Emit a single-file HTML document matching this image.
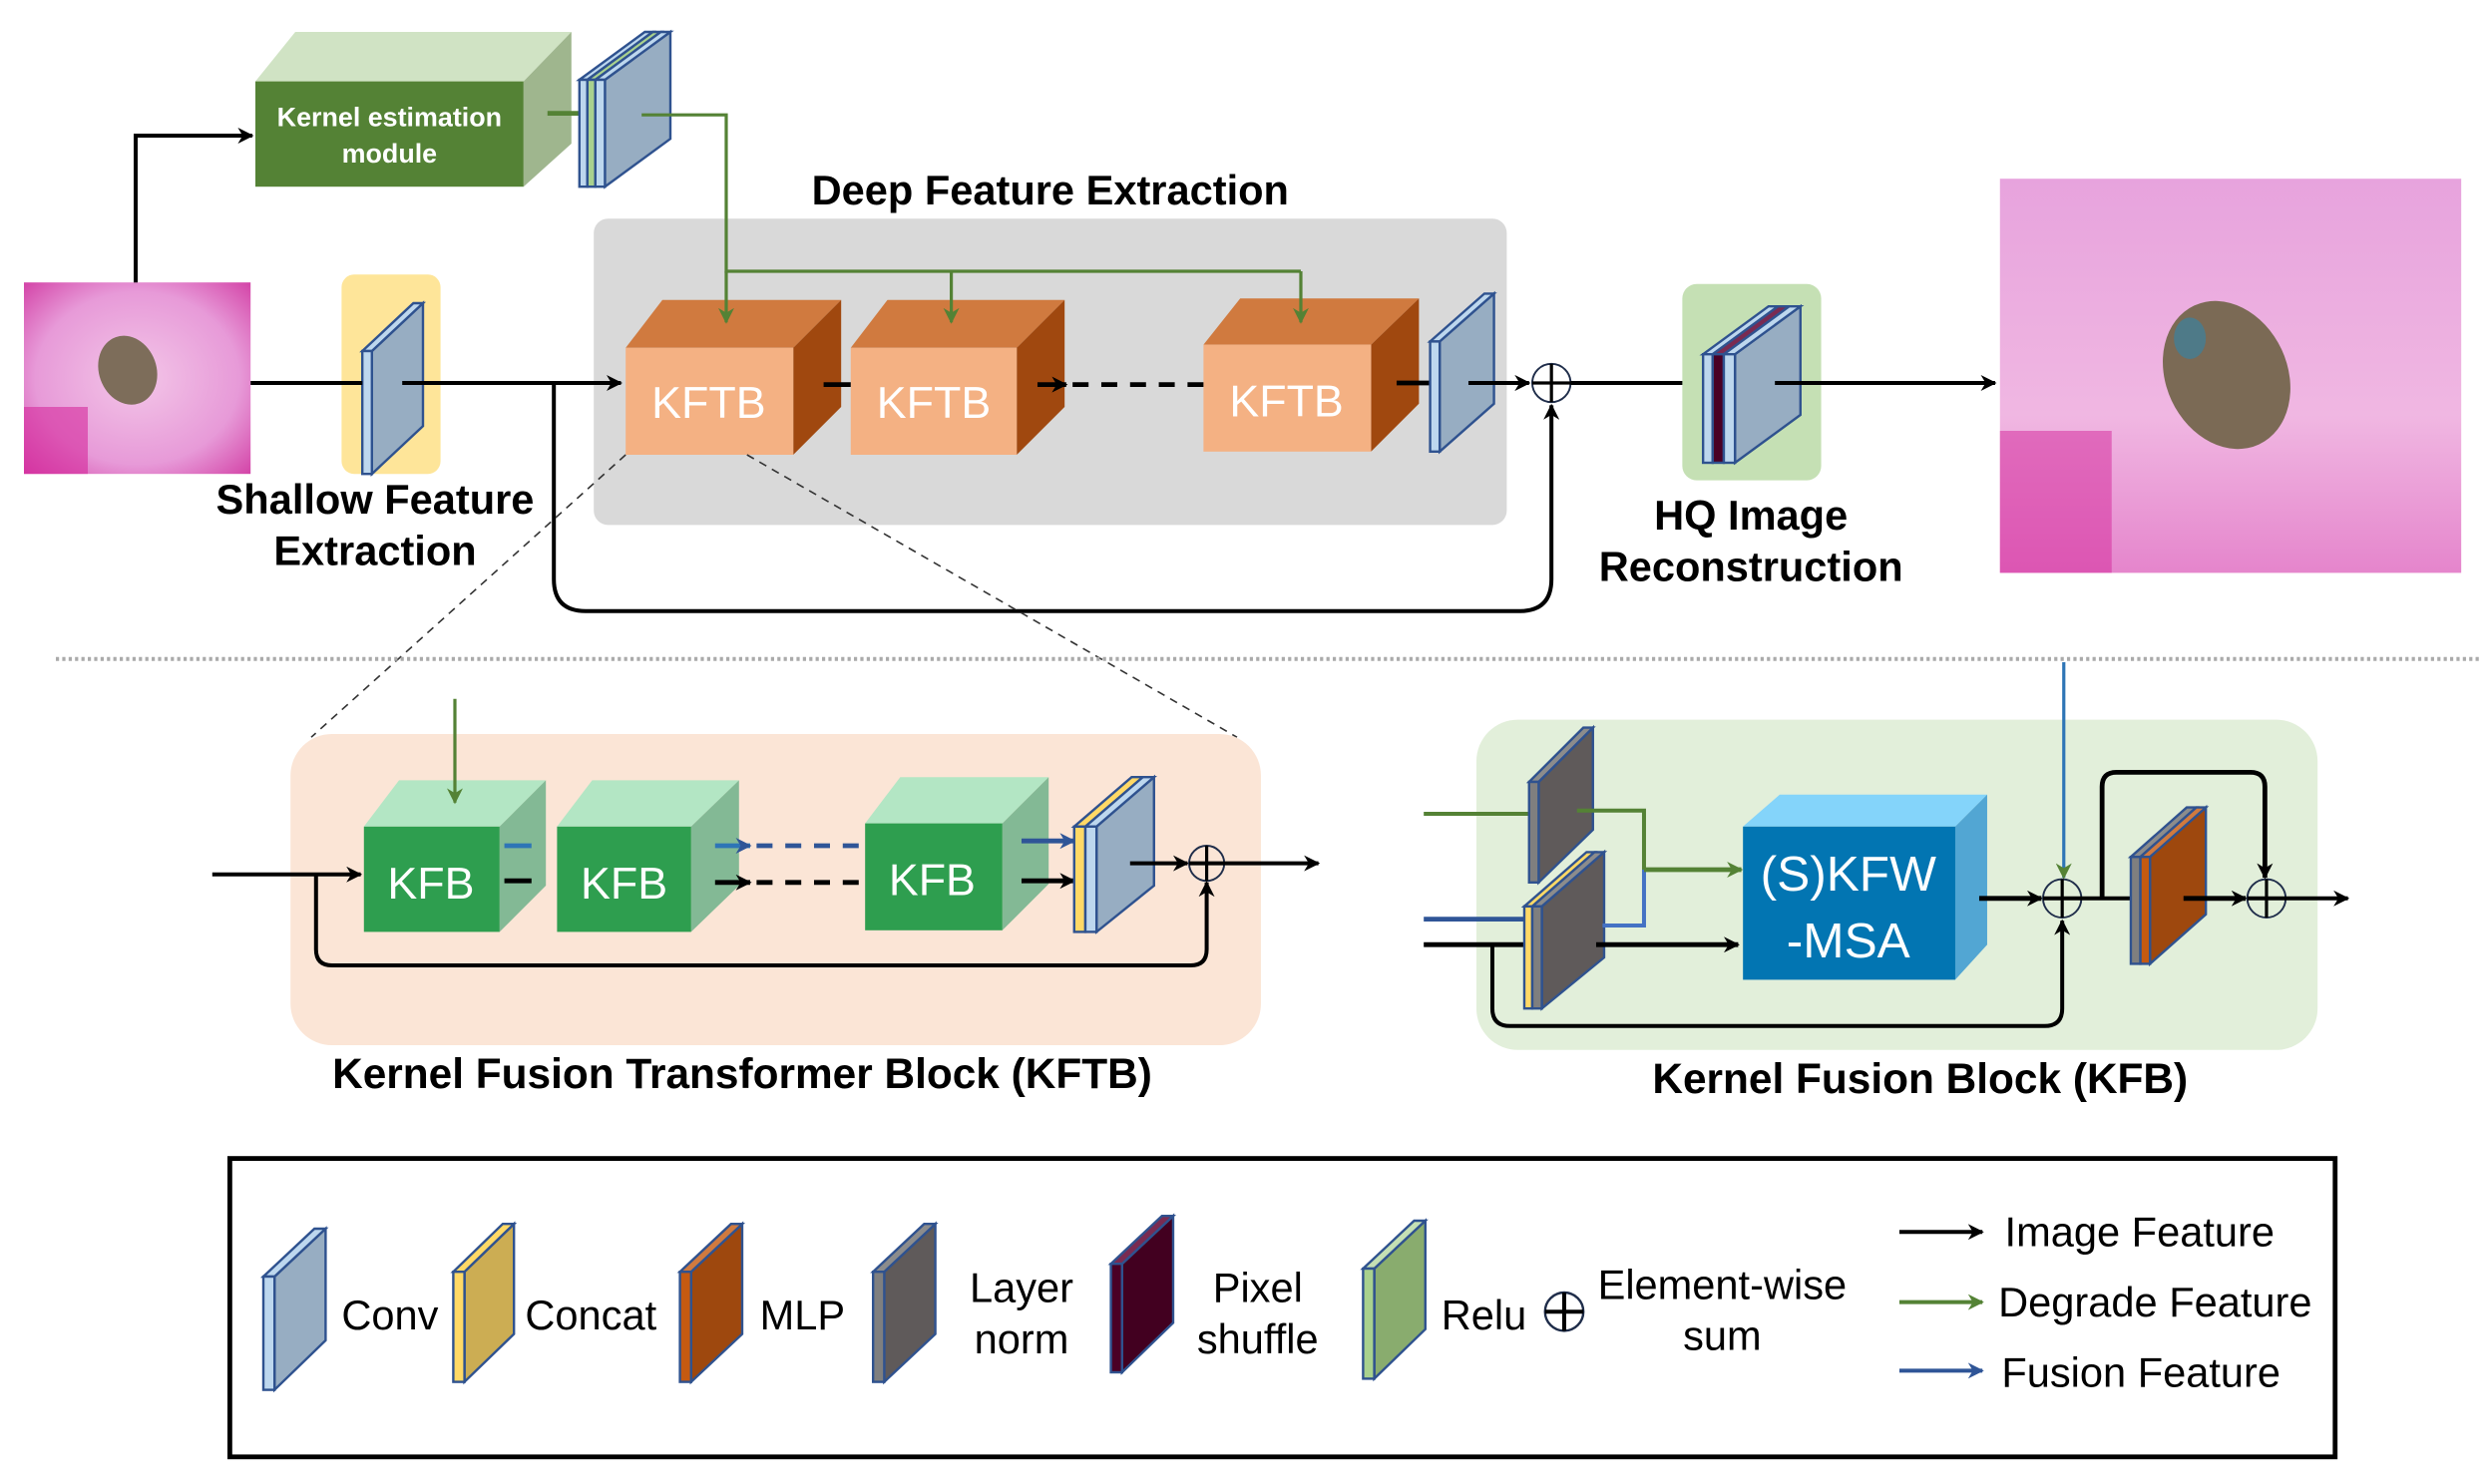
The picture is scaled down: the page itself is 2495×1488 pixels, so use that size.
<!DOCTYPE html>
<html><head><meta charset="utf-8"><style>
html,body{margin:0;padding:0;background:#fff}
svg{display:block}
text{font-family:"Liberation Sans",Arial,sans-serif}
</style></head><body>
<svg width="2495" height="1488" viewBox="0 0 1559.4 930" preserveAspectRatio="none" xmlns="http://www.w3.org/2000/svg">
<defs>
<marker id="ab" markerWidth="10" markerHeight="10" refX="9" refY="5" orient="auto" markerUnits="userSpaceOnUse"><path d="M0,0 L10,5 L0,10 L3,5 Z" fill="#000"/></marker>
<marker id="ag" markerWidth="10" markerHeight="10" refX="9" refY="5" orient="auto" markerUnits="userSpaceOnUse"><path d="M0,0 L10,5 L0,10 L3,5 Z" fill="#548235"/></marker>
<marker id="au" markerWidth="10" markerHeight="10" refX="9" refY="5" orient="auto" markerUnits="userSpaceOnUse"><path d="M0,0 L10,5 L0,10 L3,5 Z" fill="#2f5597"/></marker>
<radialGradient id="pk" cx="0.5" cy="0.5" r="0.75"><stop offset="0" stop-color="#f3c6e8"/><stop offset="0.6" stop-color="#e79ad8"/><stop offset="1" stop-color="#d0359f"/></radialGradient>
<linearGradient id="pk2" x1="0" y1="0" x2="0" y2="1"><stop offset="0" stop-color="#e7a3dd"/><stop offset="0.6" stop-color="#f0b7e2"/><stop offset="1" stop-color="#e585cc"/></linearGradient>
</defs>

<!-- input image -->
<rect x="15" y="177" width="142" height="120" fill="url(#pk)"/>
<rect x="15" y="255" width="40" height="42" fill="#d62a9c" opacity="0.6"/>
<ellipse cx="80" cy="232" rx="18" ry="22" fill="#7d6d5a" transform="rotate(-20 80 232)"/>
<!-- output image -->
<rect x="1253" y="112" width="289" height="247" fill="url(#pk2)"/>
<rect x="1253" y="270" width="70" height="89" fill="#d6309e" opacity="0.55"/>
<ellipse cx="1395" cy="235" rx="38" ry="48" fill="#7b6a55" transform="rotate(-25 1395 235)"/>
<ellipse cx="1372" cy="212" rx="10" ry="13" fill="#4e7a88"/>

<!-- arrow to kernel estimation -->
<polyline points="85,177 85,85 158,85" fill="none" stroke="#000" stroke-width="2.5" marker-end="url(#ab)"/>
<!-- kernel estimation module -->
<polygon points="160,51 185,20 358,20 328,51" fill="#d0e3c4"/>
<polygon points="328,51 358,20 358,90 328,117" fill="#9fb68e"/>
<rect x="160" y="51" width="168" height="66" fill="#548235"/>
<text x="244" y="79" font-size="16.8" font-weight="bold" fill="#fff" text-anchor="middle">Kernel estimation</text>
<text x="244" y="102" font-size="16.8" font-weight="bold" fill="#fff" text-anchor="middle">module</text>
<line x1="343" y1="71" x2="363" y2="71" stroke="#548235" stroke-width="3"/>
<!-- kernel slab -->
<g stroke="#2f528f" stroke-width="1.5">
<polygon points="379,50 420,20 420,87 379,117" fill="#97adc2"/>
<polygon points="363,50 404,20 409,20 368,50" fill="#bdd7ee"/>
<polygon points="368,50 409,20 414,20 373,50" fill="#a9d18e"/>
<polygon points="373,50 414,20 420,20 379,50" fill="#bdd7ee"/>
<rect x="363" y="50" width="5" height="67" fill="#bdd7ee"/>
<rect x="368" y="50" width="5" height="67" fill="#a9d18e"/>
<rect x="373" y="50" width="6" height="67" fill="#bdd7ee"/>
</g>

<!-- deep feature extraction -->
<text x="658" y="128" font-size="26" font-weight="bold" text-anchor="middle">Deep Feature Extraction</text>
<rect x="372" y="137" width="572" height="192" rx="9" fill="#d9d9d9"/>
<polyline points="402,72 455,72 455,170 815,170" fill="none" stroke="#548235" stroke-width="2"/>

<!-- KFTB cubes -->
<g>
<polygon points="392,218 415,188 527,188 497,218" fill="#d07a3f"/>
<polygon points="497,218 527,188 527,255 497,285" fill="#a0480f"/>
<rect x="392" y="218" width="105" height="67" fill="#f4b183"/>
<text x="444" y="262" font-size="28" fill="#fff" text-anchor="middle">KFTB</text>
<polygon points="533,218 556,188 667,188 637,218" fill="#d07a3f"/>
<polygon points="637,218 667,188 667,255 637,285" fill="#a0480f"/>
<rect x="533" y="218" width="104" height="67" fill="#f4b183"/>
<text x="585" y="262" font-size="28" fill="#fff" text-anchor="middle">KFTB</text>
<polygon points="754,216 777,187 889,187 859,216" fill="#d07a3f"/>
<polygon points="859,216 889,187 889,253 859,283" fill="#a0480f"/>
<rect x="754" y="216" width="105" height="67" fill="#f4b183"/>
<text x="806" y="261" font-size="28" fill="#fff" text-anchor="middle">KFTB</text>
</g>
<line x1="455" y1="170" x2="455" y2="202" stroke="#548235" stroke-width="2" marker-end="url(#ag)"/>
<line x1="596" y1="170" x2="596" y2="202" stroke="#548235" stroke-width="2" marker-end="url(#ag)"/>
<line x1="815" y1="170" x2="815" y2="202" stroke="#548235" stroke-width="2" marker-end="url(#ag)"/>

<!-- shallow feature -->
<rect x="214" y="172" width="62" height="125" rx="8" fill="#fee599"/>
<g stroke="#2f528f" stroke-width="1.5">
<polygon points="233,220 265,190 265,267 233,297" fill="#97adc2"/>
<polygon points="227,220 259,190 265,190 233,220" fill="#bdd7ee"/>
<rect x="227" y="220" width="6" height="77" fill="#bdd7ee"/>
</g>
<line x1="157" y1="240" x2="227" y2="240" stroke="#000" stroke-width="2.5"/>
<line x1="252" y1="240" x2="389" y2="240" stroke="#000" stroke-width="2.5" marker-end="url(#ab)"/>
<line x1="516" y1="241" x2="533" y2="241" stroke="#000" stroke-width="3"/>
<line x1="650" y1="241" x2="668" y2="241" stroke="#000" stroke-width="3" marker-end="url(#ab)"/>
<line x1="672" y1="241" x2="754" y2="241" stroke="#000" stroke-width="3" stroke-dasharray="10,8"/>
<line x1="875" y1="240" x2="896" y2="240" stroke="#000" stroke-width="3"/>
<!-- conv after KFTB -->
<g stroke="#2f528f" stroke-width="1.5">
<polygon points="902,214 936,184 936,253 902,283" fill="#97adc2"/>
<polygon points="896,214 930,184 936,184 902,214" fill="#bdd7ee"/>
<rect x="896" y="214" width="6" height="69" fill="#bdd7ee"/>
</g>
<line x1="920" y1="240" x2="958" y2="240" stroke="#000" stroke-width="2.5" marker-end="url(#ab)"/>
<circle cx="972" cy="240" r="12" fill="none" stroke="#1f2d4a" stroke-width="1.2"/>
<line x1="960" y1="240" x2="984" y2="240" stroke="#000" stroke-width="2"/>
<line x1="972" y1="228" x2="972" y2="252" stroke="#000" stroke-width="2"/>
<line x1="984" y1="240" x2="1067" y2="240" stroke="#000" stroke-width="2.5"/>
<!-- skip -->
<path d="M347,240 L347,363 Q347,383 367,383 L952,383 Q972,383 972,363 L972,254" fill="none" stroke="#000" stroke-width="2.5" marker-end="url(#ab)"/>
<!-- HQ -->
<rect x="1054" y="178" width="87" height="123" rx="9" fill="#c5e0b4"/>
<g stroke="#2f528f" stroke-width="1.5">
<polygon points="1087,222 1128,192 1128,260 1087,290" fill="#97adc2"/>
<polygon points="1067,222 1108,192 1114,192 1073,222" fill="#bdd7ee"/>
<polygon points="1073,222 1114,192 1121,192 1080,222" fill="#7a2b52"/>
<polygon points="1080,222 1121,192 1128,192 1087,222" fill="#bdd7ee"/>
<rect x="1067" y="222" width="6" height="68" fill="#bdd7ee"/>
<rect x="1073" y="222" width="7" height="68" fill="#4a0025"/>
<rect x="1080" y="222" width="7" height="68" fill="#bdd7ee"/>
</g>
<line x1="1112" y1="240" x2="1250" y2="240" stroke="#000" stroke-width="2.5" marker-end="url(#ab)"/>
<text x="235" y="322" font-size="26" font-weight="bold" text-anchor="middle">Shallow Feature</text>
<text x="235" y="354" font-size="26" font-weight="bold" text-anchor="middle">Extraction</text>
<text x="1097" y="332" font-size="26" font-weight="bold" text-anchor="middle">HQ Image</text>
<text x="1097" y="364" font-size="26" font-weight="bold" text-anchor="middle">Reconstruction</text>

<!-- zoom dashed lines -->
<line x1="392" y1="285" x2="195" y2="462" stroke="#333" stroke-width="1" stroke-dasharray="5,4"/>
<line x1="468" y1="285" x2="775" y2="462" stroke="#333" stroke-width="1" stroke-dasharray="5,4"/>
<!-- separator -->
<line x1="35" y1="413" x2="1555" y2="413" stroke="#aaa" stroke-width="2.5" stroke-dasharray="2,2"/>

<!-- KFTB detail -->
<rect x="182" y="460" width="608" height="195" rx="26" fill="#fbe5d6"/>
<g>
<polygon points="228,518 250,489 342,489 313,518" fill="#b3e6c4"/>
<polygon points="313,518 342,489 342,555 313,584" fill="#83b995"/>
<rect x="228" y="518" width="85" height="66" fill="#2e9e4f"/>
<text x="270" y="563" font-size="28" fill="#fff" text-anchor="middle">KFB</text>
<polygon points="349,518 371,489 463,489 433,518" fill="#b3e6c4"/>
<polygon points="433,518 463,489 463,555 433,584" fill="#83b995"/>
<rect x="349" y="518" width="84" height="66" fill="#2e9e4f"/>
<text x="391" y="563" font-size="28" fill="#fff" text-anchor="middle">KFB</text>
<polygon points="542,516 564,487 657,487 628,516" fill="#b3e6c4"/>
<polygon points="628,516 657,487 657,554 628,583" fill="#83b995"/>
<rect x="542" y="516" width="86" height="67" fill="#2e9e4f"/>
<text x="584" y="561" font-size="28" fill="#fff" text-anchor="middle">KFB</text>
</g>
<line x1="285" y1="438" x2="285" y2="503" stroke="#548235" stroke-width="2" marker-end="url(#ag)"/>
<line x1="133" y1="548" x2="226" y2="548" stroke="#000" stroke-width="2.5" marker-end="url(#ab)"/>
<line x1="316" y1="530" x2="333" y2="530" stroke="#2e75b6" stroke-width="3"/>
<line x1="316" y1="552" x2="333" y2="552" stroke="#000" stroke-width="3"/>
<line x1="448" y1="530" x2="470" y2="530" stroke="#2e75b6" stroke-width="3" marker-end="url(#au)"/>
<line x1="474" y1="530" x2="542" y2="530" stroke="#2f5597" stroke-width="3" stroke-dasharray="10,8"/>
<line x1="448" y1="553" x2="470" y2="553" stroke="#000" stroke-width="3" marker-end="url(#ab)"/>
<line x1="474" y1="553" x2="542" y2="553" stroke="#000" stroke-width="3" stroke-dasharray="10,8"/>
<line x1="640" y1="527" x2="673" y2="527" stroke="#2f5597" stroke-width="3" marker-end="url(#au)"/>
<line x1="640" y1="552" x2="673" y2="552" stroke="#000" stroke-width="3" marker-end="url(#ab)"/>
<g stroke="#2f528f" stroke-width="1.5">
<polygon points="687,518 723,487 723,555 687,584" fill="#97adc2"/>
<polygon points="673,518 709,487 716,487 680,518" fill="#ffd966"/>
<polygon points="680,518 716,487 723,487 687,518" fill="#bdd7ee"/>
<rect x="673" y="518" width="7" height="66" fill="#ffd966"/>
<rect x="680" y="518" width="7" height="66" fill="#bdd7ee"/>
</g>
<line x1="708" y1="541" x2="744" y2="541" stroke="#000" stroke-width="2.5" marker-end="url(#ab)"/>
<circle cx="756" cy="541" r="11" fill="none" stroke="#1f2d4a" stroke-width="1.2"/>
<line x1="756" y1="530" x2="756" y2="552" stroke="#000" stroke-width="2"/>
<line x1="745" y1="541" x2="826" y2="541" stroke="#000" stroke-width="2.5" marker-end="url(#ab)"/>
<path d="M198,548 L198,595 Q198,605 208,605 L746,605 Q756,605 756,595 L756,553" fill="none" stroke="#000" stroke-width="2.5" marker-end="url(#ab)"/>
<text x="465" y="682" font-size="26.5" font-weight="bold" text-anchor="middle">Kernel Fusion Transformer Block (KFTB)</text>

<!-- KFB detail -->
<rect x="925" y="451" width="527" height="207" rx="26" fill="#e2efda"/>
<line x1="892" y1="510" x2="958" y2="510" stroke="#548235" stroke-width="2.5"/>
<line x1="892" y1="576" x2="955" y2="576" stroke="#2f5597" stroke-width="3"/>
<line x1="892" y1="592" x2="955" y2="592" stroke="#000" stroke-width="3"/>
<g stroke="#2f528f" stroke-width="1.5">
<polygon points="964,490 998,456 998,520 964,553" fill="#5f5a5a"/>
<polygon points="958,490 992,456 998,456 964,490" fill="#8c8c8c"/>
<rect x="958" y="490" width="6" height="63" fill="#7f7f7f"/>
<polygon points="966,568 1005,534 1005,600 966,632" fill="#5f5a5a"/>
<polygon points="955,568 994,534 999,534 960,568" fill="#ffd966"/>
<polygon points="960,568 999,534 1005,534 966,568" fill="#8c8c8c"/>
<rect x="955" y="568" width="5" height="64" fill="#ffd966"/>
<rect x="960" y="568" width="6" height="64" fill="#7f7f7f"/>
</g>
<polyline points="988,508 1030,508 1030,545" fill="none" stroke="#548235" stroke-width="2.5"/>
<polyline points="1004,580 1030,580 1030,545" fill="none" stroke="#4472c4" stroke-width="2.5"/>
<line x1="1030" y1="545" x2="1091" y2="545" stroke="#548235" stroke-width="3" marker-end="url(#ag)"/>
<line x1="1000" y1="592" x2="1089" y2="592" stroke="#000" stroke-width="3" marker-end="url(#ab)"/>
<path d="M935,592 L935,632 Q935,643 946,643 L1281,643 Q1292,643 1292,632 L1292,577" fill="none" stroke="#000" stroke-width="2.5" marker-end="url(#ab)"/>
<polygon points="1092,518 1115,498 1245,498 1225,518" fill="#84d4fa"/>
<polygon points="1225,518 1245,498 1245,592 1225,614" fill="#52a6d3"/>
<rect x="1092" y="518" width="133" height="96" fill="#0275b2"/>
<text x="1158" y="558" font-size="31" fill="#fff" text-anchor="middle">(S)KFW</text>
<text x="1158" y="600" font-size="31" fill="#fff" text-anchor="middle">-MSA</text>
<line x1="1240" y1="563" x2="1279" y2="563" stroke="#000" stroke-width="3" marker-end="url(#ab)"/>
<line x1="1293" y1="415" x2="1293" y2="550" stroke="#2e75b6" stroke-width="2" marker-end="url(#ag)"/>
<circle cx="1292" cy="563" r="12" fill="none" stroke="#1f2d4a" stroke-width="1.2"/>
<line x1="1292" y1="551" x2="1292" y2="575" stroke="#000" stroke-width="2"/>
<line x1="1280" y1="563" x2="1335" y2="563" stroke="#000" stroke-width="2.5"/>
<path d="M1317,563 L1317,493 Q1317,484 1326,484 L1410,484 Q1419,484 1419,493 L1419,550" fill="none" stroke="#000" stroke-width="3" marker-end="url(#ab)"/>
<g stroke="#2f528f" stroke-width="1.5">
<polygon points="1347,537 1382,506 1382,573 1347,604" fill="#9e480e"/>
<polygon points="1335,537 1370,506 1376,506 1341,537" fill="#8c8c8c"/>
<polygon points="1341,537 1376,506 1382,506 1347,537" fill="#d07a3f"/>
<rect x="1335" y="537" width="6" height="67" fill="#7f7f7f"/>
<rect x="1341" y="537" width="6" height="67" fill="#c55a11"/>
</g>
<line x1="1368" y1="563" x2="1407" y2="563" stroke="#000" stroke-width="3" marker-end="url(#ab)"/>
<circle cx="1420" cy="563" r="12" fill="none" stroke="#1f2d4a" stroke-width="1.2"/>
<line x1="1420" y1="551" x2="1420" y2="575" stroke="#000" stroke-width="2"/>
<line x1="1408" y1="563" x2="1471" y2="563" stroke="#000" stroke-width="2.5" marker-end="url(#ab)"/>
<text x="1203" y="685" font-size="26.5" font-weight="bold" text-anchor="middle">Kernel Fusion Block (KFB)</text>

<!-- legend -->
<rect x="144" y="726" width="1319" height="187" fill="#fff" stroke="#000" stroke-width="3"/>
<g stroke="#2f528f" stroke-width="1.5">
<polygon points="172,800 204,770 204,840 172,871" fill="#97adc2"/>
<polygon points="165,800 197,770 204,770 172,800" fill="#bdd7ee"/>
<rect x="165" y="800" width="7" height="71" fill="#bdd7ee"/>
<polygon points="291,797 322,767 322,836 291,866" fill="#ccad53"/>
<polygon points="284,797 315,767 322,767 291,797" fill="#ffd966"/>
<rect x="284" y="797" width="7" height="69" fill="#ffd966"/>
<polygon points="433,797 465,767 465,836 433,866" fill="#9e480e"/>
<polygon points="426,797 458,767 465,767 433,797" fill="#d07a3f"/>
<rect x="426" y="797" width="7" height="69" fill="#c55a11"/>
<polygon points="554,797 586,767 586,836 554,866" fill="#5f5a5a"/>
<polygon points="547,797 579,767 586,767 554,797" fill="#8c8c8c"/>
<rect x="547" y="797" width="7" height="69" fill="#7f7f7f"/>
<polygon points="703,792 735,762 735,829 703,860" fill="#420020"/>
<polygon points="696,792 728,762 735,762 703,792" fill="#7a2b52"/>
<rect x="696" y="792" width="7" height="68" fill="#4a0025"/>
<polygon points="861,795 893,765 893,833 861,864" fill="#89ac6e"/>
<polygon points="854,795 886,765 893,765 861,795" fill="#c5e0b4"/>
<rect x="854" y="795" width="7" height="69" fill="#a9d18e"/>
</g>
<g font-size="26">
<text x="214" y="833">Conv</text>
<text x="329" y="833">Concat</text>
<text x="476" y="833">MLP</text>
<text x="640" y="816" text-anchor="middle">Layer</text>
<text x="640" y="848" text-anchor="middle">norm</text>
<text x="788" y="816" text-anchor="middle">Pixel</text>
<text x="788" y="848" text-anchor="middle">shuffle</text>
<text x="903" y="833">Relu</text>
<text x="1079" y="814" text-anchor="middle">Element-wise</text>
<text x="1079" y="846" text-anchor="middle">sum</text>
<text x="1256" y="781">Image Feature</text>
<text x="1252" y="825">Degrade Feature</text>
<text x="1254" y="869">Fusion Feature</text>
</g>
<circle cx="980" cy="822" r="12" fill="none" stroke="#1f2d4a" stroke-width="1.5"/>
<line x1="968" y1="822" x2="992" y2="822" stroke="#000" stroke-width="2.5"/>
<line x1="980" y1="810" x2="980" y2="834" stroke="#000" stroke-width="2.5"/>
<line x1="1190" y1="772" x2="1242" y2="772" stroke="#000" stroke-width="2.5" marker-end="url(#ab)"/>
<line x1="1190" y1="816" x2="1242" y2="816" stroke="#548235" stroke-width="2.5" marker-end="url(#ag)"/>
<line x1="1190" y1="859" x2="1242" y2="859" stroke="#2f5597" stroke-width="2.5" marker-end="url(#au)"/>
</svg>
</body></html>
